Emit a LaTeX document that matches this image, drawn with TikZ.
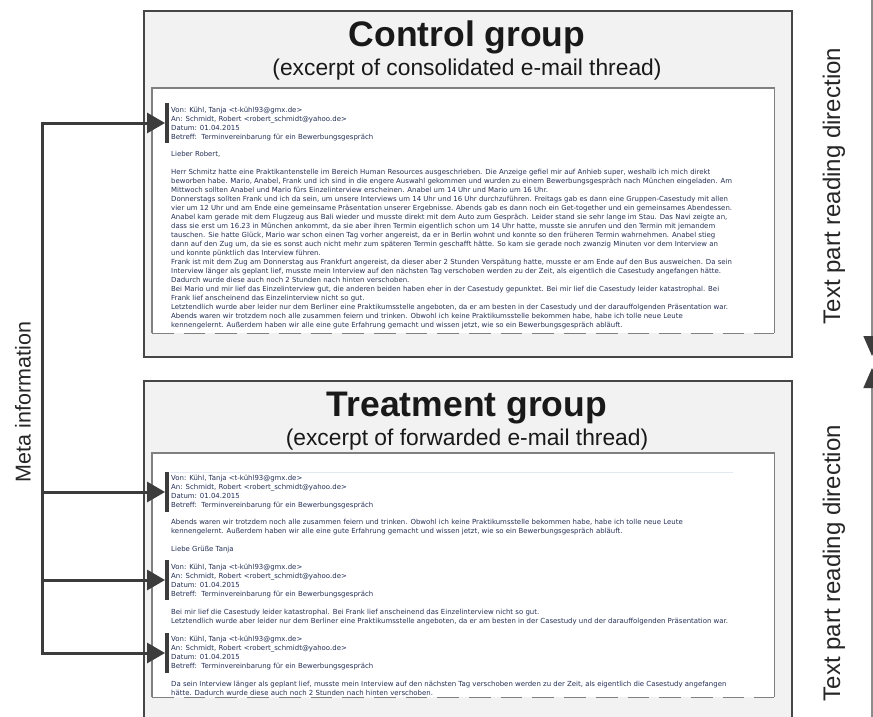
\documentclass[tikz,border=0pt]{standalone}
\usepackage{fontspec}
\setmainfont{Liberation Sans}
\newfontfamily\mailfont{DejaVu Sans}
\usetikzlibrary{arrows.meta}
\definecolor{boxgray}{RGB}{242,242,242}
\definecolor{borderdark}{RGB}{70,70,70}
\definecolor{innerborder}{RGB}{128,128,128}
\definecolor{mailtext}{RGB}{35,47,85}
\definecolor{arrowdark}{RGB}{60,60,60}
\definecolor{sepline}{RGB}{225,232,242}
\begin{document}
\begin{tikzpicture}[x=1pt,y=-1pt,
  outerbox/.style={draw=borderdark, line width=2.2pt, fill=boxgray, inner sep=0pt, anchor=north west},
  innerfill/.style={fill=white, draw=none, inner sep=0pt, anchor=north west},
  innerline/.style={draw=innerborder, line width=1.8pt},
  innerdash/.style={innerline, dash pattern=on 21.7pt off 10pt},
  mailtxt/.style={font=\mailfont\fontsize{6.95}{8.95}\selectfont, text=mailtext, align=left, inner sep=0pt, anchor=north west},
  hdrbar/.style={fill=arrowdark, draw=none, minimum width=3.5pt, minimum height=40pt, inner sep=0pt},
  metaline/.style={draw=arrowdark, line width=3pt},
  titletxt/.style={font=\bfseries\fontsize{35.5}{40}\selectfont, anchor=base, inner sep=0pt, text=black!90},
  subtxt/.style={font=\fontsize{22.8}{26}\selectfont, anchor=base, inner sep=0pt, text=black!90},
  sidetxt/.style={font=\fontsize{24}{28}\selectfont, rotate=90, inner sep=0pt, text=black!85},
  metatxt/.style={font=\fontsize{21.5}{25}\selectfont, rotate=90, inner sep=0pt, text=black!85},
  >={Triangle[length=18pt,width=20pt]}
]
\path[use as bounding box] (0,0) rectangle (873,717);
\begin{scope}
\clip (0,0) rectangle (873,717);
\fill[white] (0,0) rectangle (873,717);

% outer boxes
\node[outerbox, minimum width=648pt, minimum height=346pt] (ctrl) at (143,10) {};
\node[outerbox, minimum width=648pt, minimum height=360pt] (treat) at (143,380) {};

% inner boxes
\node[innerfill, minimum width=622pt, minimum height=245pt] (cin) at (152,88) {};
\node[innerfill, minimum width=622pt, minimum height=244pt] (tin) at (152,453) {};
\draw[innerline] (cin.south west) -- (cin.north west) -- (cin.north east) -- (cin.south east);
\draw[innerdash] (cin.south west) -- (cin.south east);
\draw[innerline] (tin.south west) -- (tin.north west) -- (tin.north east) -- (tin.south east);
\draw[innerdash] (tin.south west) -- (tin.south east);

% titles
\node[titletxt] (ctitle) at (467,47) {Control group};
\node[subtxt] (csub) at (467,76) {(excerpt of consolidated e-mail thread)};
\node[titletxt] (ttitle) at (467,416) {Treatment group};
\node[subtxt] (tsub) at (467,445) {(excerpt of forwarded e-mail thread)};

% separator line in forwarded thread
\coordinate (sepL) at (170,472.5);
\coordinate (sepR) at (733,472.5);
\draw[draw=sepline, line width=1pt] (sepL) -- (sepR);

% control mail text
\node[mailtxt] (ctext) at (171,105.735) {\strut Von: Kühl, Tanja <t-kühl93@gmx.de>\\
An: Schmidt, Robert <robert\_schmidt@yahoo.de>\\
Datum: 01.04.2015\\
Betreff:\ \ Terminvereinbarung für ein Bewerbungsgespräch\\[8.95pt]
Lieber Robert,\\[8.95pt]
Herr Schmitz hatte eine Praktikantenstelle im Bereich Human Resources ausgeschrieben. Die Anzeige gefiel mir auf Anhieb super, weshalb ich mich direkt\\
beworben habe. Mario, Anabel, Frank und ich sind in die engere Auswahl gekommen und wurden zu einem Bewerbungsgespräch nach München eingeladen. Am\\
Mittwoch sollten Anabel und Mario fürs Einzelinterview erscheinen. Anabel um 14 Uhr und Mario um 16 Uhr.\\
Donnerstags sollten Frank und ich da sein, um unsere Interviews um 14 Uhr und 16 Uhr durchzuführen. Freitags gab es dann eine Gruppen-Casestudy mit allen\\
vier um 12 Uhr und am Ende eine gemeinsame Präsentation unserer Ergebnisse. Abends gab es dann noch ein Get-together und ein gemeinsames Abendessen.\\
Anabel kam gerade mit dem Flugzeug aus Bali wieder und musste direkt mit dem Auto zum Gespräch. Leider stand sie sehr lange im Stau. Das Navi zeigte an,\\
dass sie erst um 16.23 in München ankommt, da sie aber ihren Termin eigentlich schon um 14 Uhr hatte, musste sie anrufen und den Termin mit jemandem\\
tauschen. Sie hatte Glück, Mario war schon einen Tag vorher angereist, da er in Berlin wohnt und konnte so den früheren Termin wahrnehmen. Anabel stieg\\
dann auf den Zug um, da sie es sonst auch nicht mehr zum späteren Termin geschafft hätte. So kam sie gerade noch zwanzig Minuten vor dem Interview an\\
und konnte pünktlich das Interview führen.\\
Frank ist mit dem Zug am Donnerstag aus Frankfurt angereist, da dieser aber 2 Stunden Verspätung hatte, musste er am Ende auf den Bus ausweichen. Da sein\\
Interview länger als geplant lief, musste mein Interview auf den nächsten Tag verschoben werden zu der Zeit, als eigentlich die Casestudy angefangen hätte.\\
Dadurch wurde diese auch noch 2 Stunden nach hinten verschoben.\\
Bei Mario und mir lief das Einzelinterview gut, die anderen beiden haben eher in der Casestudy gepunktet. Bei mir lief die Casestudy leider katastrophal. Bei\\
Frank lief anscheinend das Einzelinterview nicht so gut.\\
Letztendlich wurde aber leider nur dem Berliner eine Praktikumsstelle angeboten, da er am besten in der Casestudy und der darauffolgenden Präsentation war.\\
Abends waren wir trotzdem noch alle zusammen feiern und trinken. Obwohl ich keine Praktikumsstelle bekommen habe, habe ich tolle neue Leute\\
kennengelernt. Außerdem haben wir alle eine gute Erfahrung gemacht und wissen jetzt, wie so ein Bewerbungsgespräch abläuft.};

% treatment mail text
\node[mailtxt] (ttext) at (171,473.735) {\strut Von: Kühl, Tanja <t-kühl93@gmx.de>\\
An: Schmidt, Robert <robert\_schmidt@yahoo.de>\\
Datum: 01.04.2015\\
Betreff:\ \ Terminvereinbarung für ein Bewerbungsgespräch\\[8.95pt]
Abends waren wir trotzdem noch alle zusammen feiern und trinken. Obwohl ich keine Praktikumsstelle bekommen habe, habe ich tolle neue Leute\\
kennengelernt. Außerdem haben wir alle eine gute Erfahrung gemacht und wissen jetzt, wie so ein Bewerbungsgespräch abläuft.\\[8.95pt]
Liebe Grüße Tanja\\[8.95pt]
Von: Kühl, Tanja <t-kühl93@gmx.de>\\
An: Schmidt, Robert <robert\_schmidt@yahoo.de>\\
Datum: 01.04.2015\\
Betreff:\ \ Terminvereinbarung für ein Bewerbungsgespräch\\[8.95pt]
Bei mir lief die Casestudy leider katastrophal. Bei Frank lief anscheinend das Einzelinterview nicht so gut.\\
Letztendlich wurde aber leider nur dem Berliner eine Praktikumsstelle angeboten, da er am besten in der Casestudy und der darauffolgenden Präsentation war.\\[8.95pt]
Von: Kühl, Tanja <t-kühl93@gmx.de>\\
An: Schmidt, Robert <robert\_schmidt@yahoo.de>\\
Datum: 01.04.2015\\
Betreff:\ \ Terminvereinbarung für ein Bewerbungsgespräch\\[8.95pt]
Da sein Interview länger als geplant lief, musste mein Interview auf den nächsten Tag verschoben werden zu der Zeit, als eigentlich die Casestudy angefangen\\
hätte. Dadurch wurde diese auch noch 2 Stunden nach hinten verschoben.};

% header bars
\node[hdrbar] (h1) at (167,123) {};
\node[hdrbar] (h2) at (167,492) {};
\node[hdrbar] (h3) at (167,580) {};
\node[hdrbar] (h4) at (167,653) {};

% meta information connectors
\coordinate (m1) at (42,123);
\coordinate (m2) at (42,492);
\coordinate (m3) at (42,580);
\coordinate (m4) at (42,653);
\draw[metaline,<->] (h1.west) -- (m1) -- (m4) -- (h4.west);
\draw[metaline,->] (m2) -- (h2.west);
\draw[metaline,->] (m3) -- (h3.west);
\node[metatxt] (meta) at (23,402) {Meta information};

% reading direction
\coordinate (rtop) at (872,-2);
\coordinate (rtip1) at (872,356);
\coordinate (rbot) at (872,719);
\coordinate (rtip2) at (872,368);
\draw[draw=black!45, line width=1.5pt, -{Triangle[length=20pt,width=17pt,color=arrowdark]}] (rtop) -- (rtip1);
\draw[draw=black!45, line width=1.5pt, -{Triangle[length=20pt,width=17pt,color=arrowdark]}] (rbot) -- (rtip2);
\node[sidetxt] (rd1) at (834,186) {Text part reading direction};
\node[sidetxt] (rd2) at (834,563) {Text part reading direction};
\end{scope}
\end{tikzpicture}
\end{document}
